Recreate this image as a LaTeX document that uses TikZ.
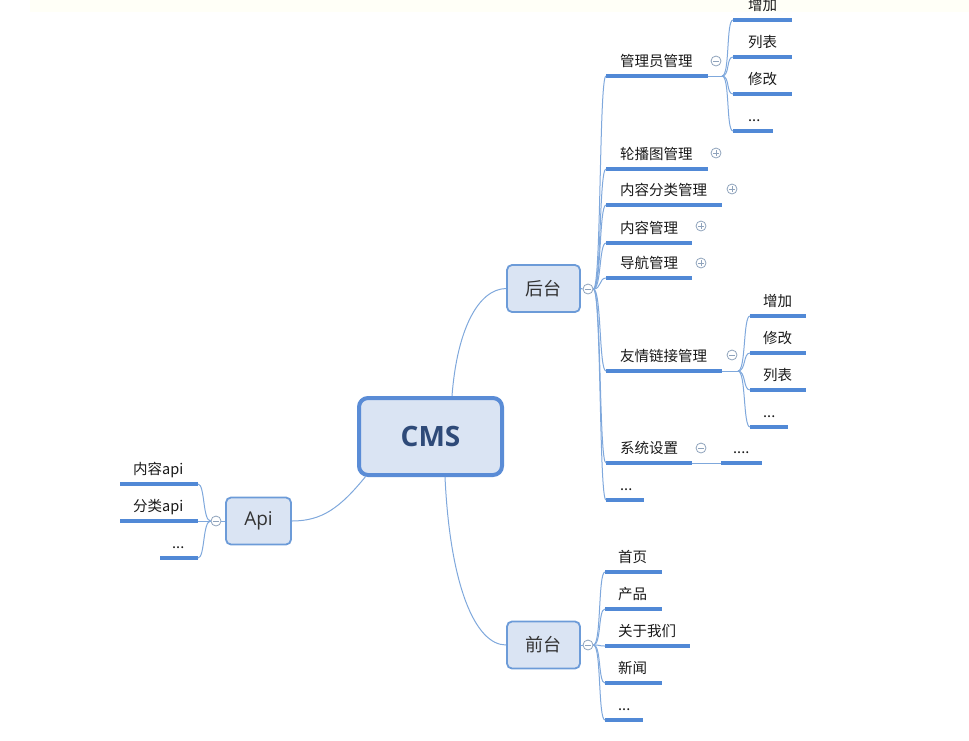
\documentclass[tikz,border=0pt]{standalone}
\usepackage{fontspec}
\setmainfont{Noto Sans CJK SC}
\newfontfamily\latf{Open Sans}
\usetikzlibrary{calc}
\definecolor{uln}{HTML}{5189D6}
\definecolor{cnn}{HTML}{7FA8DC}
\definecolor{boxf}{HTML}{DAE4F3}
\definecolor{boxd}{HTML}{6C9BD8}
\definecolor{cmsd}{HTML}{5A8CD6}
\definecolor{cmst}{HTML}{2E4A78}
\definecolor{tgl}{HTML}{8FA3BC}
\tikzset{
  uline/.style={draw=uln,line width=3.4pt},
  conn/.style={draw=cnn,line width=1pt},
  lbl/.style={anchor=base west,inner sep=0pt,text=black!90,font=\fontsize{14.5}{17}\selectfont},
  sbox/.style={draw=boxd,fill=boxf,line width=1.8pt,rounded corners=5pt,minimum width=73pt,minimum height=47pt,inner sep=0pt},
  tgminus/.style={circle,draw=tgl,fill=white,line width=0.8pt,minimum size=10pt,inner sep=0pt,
    path picture={\draw[tgl,line width=0.8pt] ($(path picture bounding box.center)+(-2.8,0)$) -- ($(path picture bounding box.center)+(2.8,0)$);}},
  tgplus/.style={circle,draw=tgl,fill=white,line width=0.8pt,minimum size=10pt,inner sep=0pt,
    path picture={\draw[tgl,line width=0.8pt] ($(path picture bounding box.center)+(-2.8,0)$) -- ($(path picture bounding box.center)+(2.8,0)$);
    \draw[tgl,line width=0.8pt] ($(path picture bounding box.center)+(0,-2.8)$) -- ($(path picture bounding box.center)+(0,2.8)$);}}
}
\newcommand\kid[6]{% name, text, xstart, xend, y, text x offset
  \coordinate (#1s) at (#3,#5); \coordinate (#1e) at (#4,#5);
  \draw[uline] (#1s) -- (#1e);
  \node[lbl] (#1t) at (#3+#6,#5-10) {#2};}
\newcommand\brr[2]{\draw[conn] (#1) .. controls ($(#1)+(8,0)$) and ($(#2)+(-7,0)$) .. (#2);}
\newcommand\brl[2]{\draw[conn] (#1) .. controls ($(#1)+(-8,0)$) and ($(#2)+(7,0)$) .. (#2);}
\begin{document}
\begin{tikzpicture}[x=1pt,y=-1pt]
\useasboundingbox (0,0) rectangle (969,740);
\fill[fill=yellow!3] (30,0) rectangle (969,12);

% main nodes
\node[draw=cmsd,fill=boxf,line width=4pt,rounded corners=9pt,minimum width=143pt,minimum height=77pt,inner sep=0pt,
  font=\latf\bfseries\fontsize{28}{32}\selectfont,text=cmst] (cms) at (430.5,436.5) {CMS};
\node[sbox,font=\fontsize{18}{20}\selectfont,text=black!80] (hou) at (543.5,288.5) {后台};
\node[sbox,font=\fontsize{18}{20}\selectfont,text=black!80] (qian) at (543.5,645) {前台};
\node[sbox,minimum width=65pt,font=\latf\fontsize{19}{22}\selectfont,text=black!80] (api) at (258.5,521) {Api};

% CMS connectors
\coordinate (cmsT) at (452,396);
\coordinate (cmsB) at (445,477);
\coordinate (cmsL) at (366,476);
\draw[conn] (cmsT) .. controls (457,330) and (478,289) .. (hou.west);
\draw[conn] (cmsB) .. controls (450,585) and (475,645) .. (qian.west);
\draw[conn] (cmsL) .. controls (340,508) and (322,521) .. (api.east);

% toggles of main branches
\node[tgminus] (houtg) at (588,289) {};
\node[tgminus] (qiantg) at (588,645) {};
\node[tgminus] (apitg) at (216,521) {};
\draw[conn] (hou.east) -- (houtg.west);
\draw[conn] (qian.east) -- (qiantg.west);
\draw[conn] (api.west) -- (apitg.east);

% 后台 children
\kid{a}{管理员管理}{606}{708}{76}{14}
\kid{b}{轮播图管理}{606}{708}{169}{14}
\kid{c}{内容分类管理}{606}{722}{205}{14}
\kid{d}{内容管理}{606}{692}{243}{14}
\kid{e}{导航管理}{606}{692}{278}{14}
\kid{f}{友情链接管理}{606}{722}{371}{14}
\kid{g}{系统设置}{606}{692}{463}{14}
\kid{h}{...}{606}{644}{500}{14}
\foreach \k in {a,b,c,d,e,f,g,h}{\brr{houtg.east}{\k s}}

\node[tgminus] (atg) at (716,61) {};
\node[tgplus] (btg) at (716,153) {};
\node[tgplus] (ctg) at (732,189) {};
\node[tgplus] (dtg) at (701,226) {};
\node[tgplus] (etg) at (701,263) {};
\node[tgminus] (ftg) at (732,355) {};
\node[tgminus] (gtg) at (701,448) {};

% 管理员管理 sub
\coordinate (ab) at (722,76);
\draw[conn] (ae) -- (ab);
\kid{a1}{增加}{733}{792}{20}{15}
\kid{a2}{列表}{733}{792}{57}{15}
\kid{a3}{修改}{733}{792}{94}{15}
\kid{a4}{...}{733}{773}{131}{15}
\foreach \k in {a1,a2,a3,a4}{\brr{ab}{\k s}}

% 友情链接管理 sub
\coordinate (fb) at (738,371);
\draw[conn] (fe) -- (fb);
\kid{f1}{增加}{750}{806}{316}{13}
\kid{f2}{修改}{750}{806}{353}{13}
\kid{f3}{列表}{750}{806}{390}{13}
\kid{f4}{...}{750}{788}{427}{13}
\foreach \k in {f1,f2,f3,f4}{\brr{fb}{\k s}}

% 系统设置 sub
\kid{g1}{....}{721}{762}{463}{12}
\draw[conn] (ge) -- (g1s);

% 前台 children
\kid{q1}{首页}{605}{662}{572}{13}
\kid{q2}{产品}{605}{662}{609}{13}
\kid{q3}{关于我们}{605}{690}{646}{13}
\kid{q4}{新闻}{605}{662}{683}{13}
\kid{q5}{...}{605}{643}{720}{13}
\foreach \k in {q1,q2,q3,q4,q5}{\brr{qiantg.east}{\k s}}

% Api children (left side)
\coordinate (p1e) at (198,484); \coordinate (p1s) at (120,484);
\coordinate (p2e) at (198,521); \coordinate (p2s) at (120,521);
\coordinate (p3e) at (198,558); \coordinate (p3s) at (160,558);
\draw[uline] (p1s) -- (p1e);
\draw[uline] (p2s) -- (p2e);
\draw[uline] (p3s) -- (p3e);
\node[lbl] (p1t) at (133,474) {内容api};
\node[lbl] (p2t) at (133,511) {分类api};
\node[lbl] (p3t) at (172,548) {...};
\foreach \k in {p1,p2,p3}{\brl{apitg.west}{\k e}}
\end{tikzpicture}
\end{document}
